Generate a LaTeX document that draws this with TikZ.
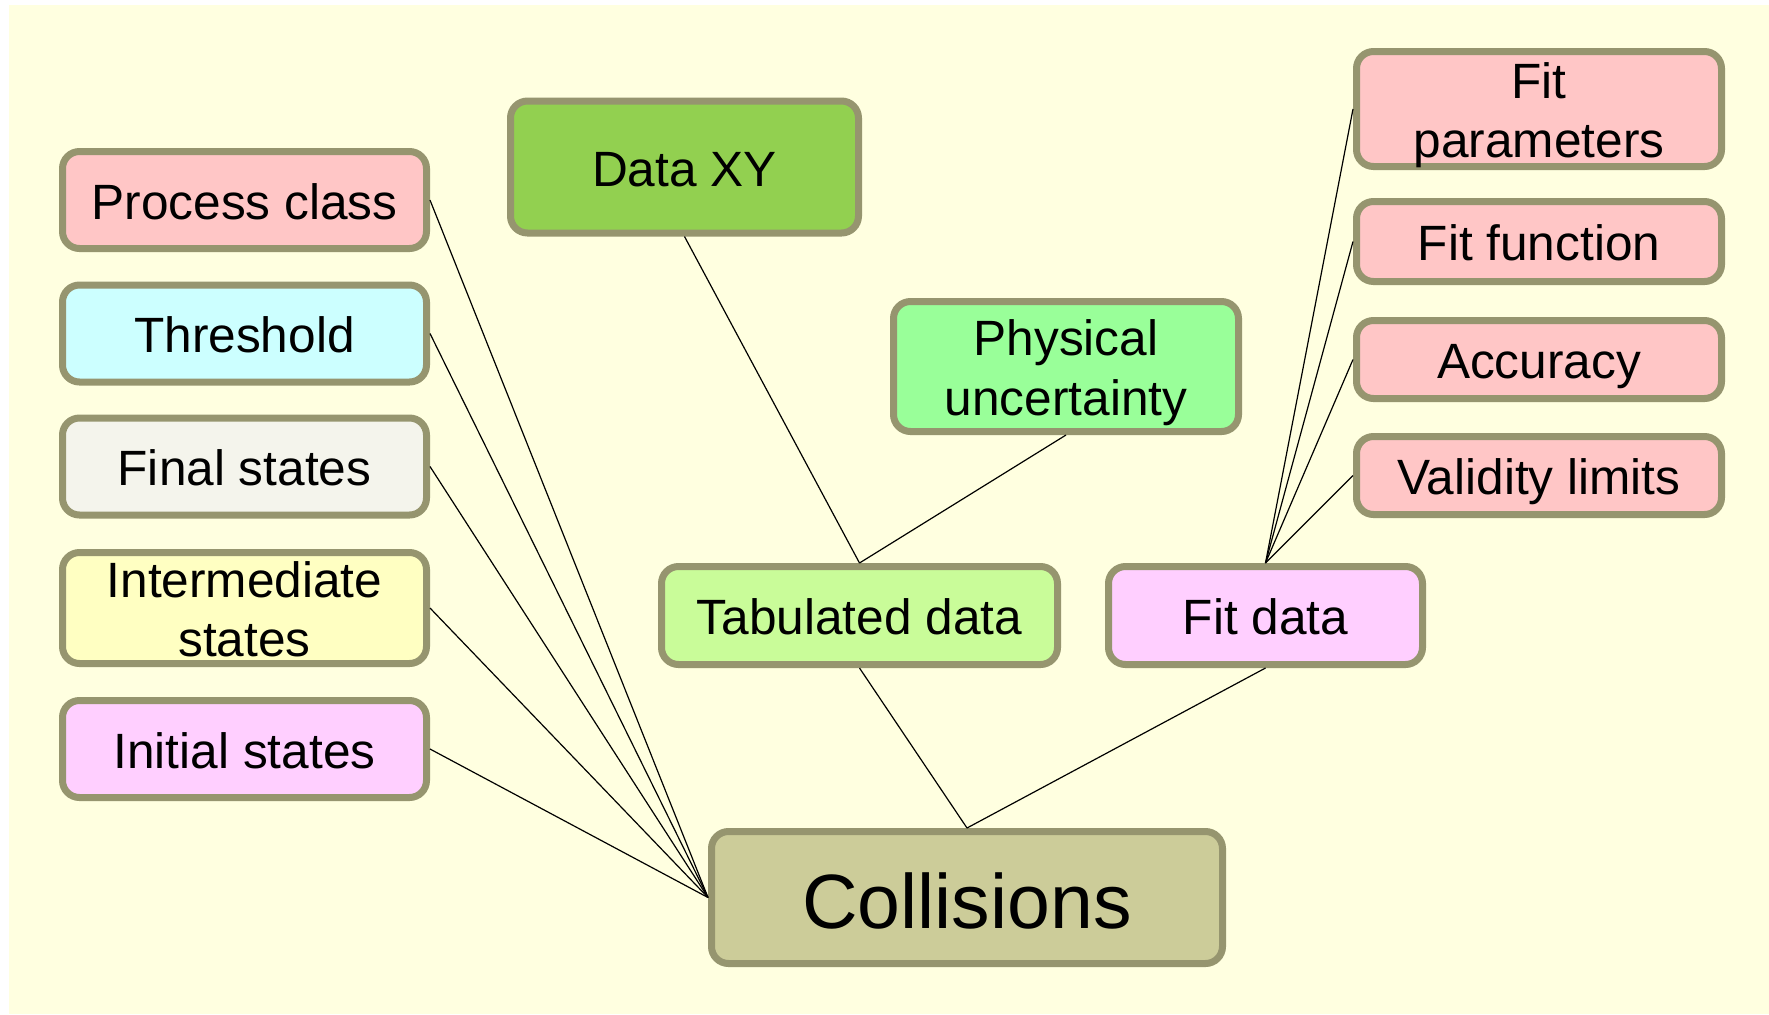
\documentclass[tikz,border=0pt]{standalone}
\usepackage{fontspec}
\setmainfont{Liberation Sans}
\definecolor{bgcream}{HTML}{FFFFE0}
\definecolor{rim}{HTML}{96956F}
\definecolor{pinkfill}{HTML}{FFC6C6}
\definecolor{cyanfill}{HTML}{CCFFFF}
\definecolor{greyfill}{HTML}{F4F4EC}
\definecolor{yellowfill}{HTML}{FFFFC2}
\definecolor{violetfill}{HTML}{FFCFFF}
\definecolor{grassfill}{HTML}{92D050}
\definecolor{mintfill}{HTML}{99FF99}
\definecolor{limefill}{HTML}{C9FC99}
\definecolor{olivefill}{HTML}{CCCC99}
\tikzset{
  box/.style={draw=rim, line width=3.5pt, rounded corners=8.5pt,
    align=center, inner sep=0pt, text=black,
    font=\fontsize{24.8}{29.8}\selectfont},
  % fixed text boxes, so every label sits at the same place in its box
  % (a two-line box is measured from the baseline of its last line)
  oneline/.style={box, text height=24.5pt, text depth=5.3pt},
  twoline/.style={box, text height=52pt, text depth=3.4pt},
  wire/.style={draw=black, line width=0.6pt}
}
\begin{document}
\begin{tikzpicture}[x=0.5pt, y=-0.5pt]
  % canvas
  \useasboundingbox (0,0) rectangle (1769,1014);
  \fill[white] (0,0) rectangle (1769,1014);
  \fill[bgcream] (9,5) rectangle (1769,1014);

  % left column of properties
  \node[oneline, fill=pinkfill,   minimum width=182pt, minimum height=48.5pt] (proc)   at (244.5,200) {Process class};
  \node[oneline, fill=cyanfill,   minimum width=182pt, minimum height=48.5pt] (thr)    at (244.5,333.5) {Threshold};
  \node[oneline, fill=greyfill,   minimum width=182pt, minimum height=48.5pt] (final)  at (244.5,466.5) {Final states};
  \node[twoline, fill=yellowfill, minimum width=182pt, minimum height=55.5pt] (interm) at (244.5,608) {Intermediate\\states};
  \node[oneline, fill=violetfill, minimum width=182pt, minimum height=48.5pt] (init)   at (244.5,749) {Initial states};

  % data branch
  \node[oneline, fill=grassfill, minimum width=174pt, minimum height=66pt] (dxy)  at (684.5,167) {Data XY};
  \node[twoline, fill=mintfill,  minimum width=172.5pt, minimum height=65pt] (phys) at (1066,366.5) {Physical\\uncertainty};
  \node[oneline, fill=limefill,  minimum width=198pt, minimum height=49pt] (tab)  at (859.5,615.5) {Tabulated data};
  \node[oneline, fill=violetfill, minimum width=157pt, minimum height=49pt] (fit) at (1265.5,615.5) {Fit data};

  % fit descriptors
  \node[twoline, fill=pinkfill, minimum width=182.5pt, minimum height=57.5pt] (fpar) at (1539,109) {Fit\\parameters};
  \node[oneline, fill=pinkfill, minimum width=182.5pt, minimum height=40pt] (ffun) at (1539,241.5) {Fit function};
  \node[oneline, fill=pinkfill, minimum width=182.5pt, minimum height=39pt] (acc)  at (1539,359.5) {Accuracy};
  \node[oneline, fill=pinkfill, minimum width=182.5pt, minimum height=39pt] (val)  at (1539,475.5) {Validity limits};

  % root
  \node[box, fill=olivefill, minimum width=255.5pt, minimum height=66pt,
        font=\fontsize{38.5}{44}\selectfont, text height=38.9pt, text depth=8.1pt]
        (coll) at (967,897.5) {Collisions};

  % connectors
  \foreach \n in {proc,thr,final,interm,init}
    \draw[wire] (\n.east) -- (coll.west);
  \draw[wire] (dxy.south) -- (tab.north);
  \draw[wire] (phys.south) -- (tab.north);
  \draw[wire] (tab.south) -- (coll.north);
  \draw[wire] (fit.south) -- (coll.north);
  \foreach \n in {fpar,ffun,acc,val}
    \draw[wire] (\n.west) -- (fit.north);
\end{tikzpicture}
\end{document}
